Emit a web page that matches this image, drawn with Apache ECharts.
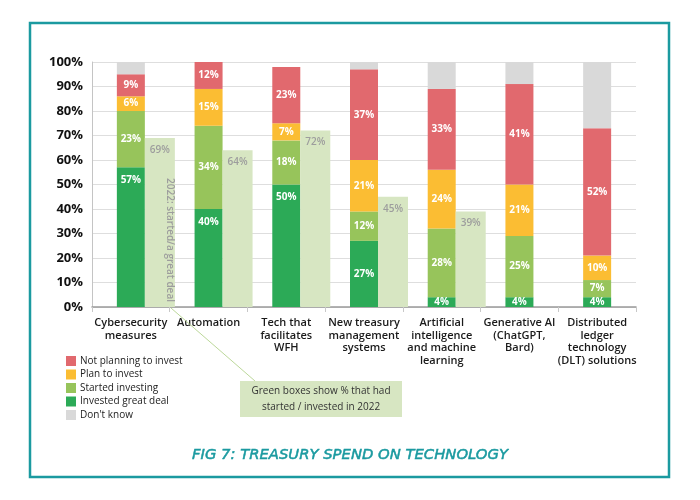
<!DOCTYPE html>
<html>
<head>
<meta charset="utf-8">
<script src="https://cdn.jsdelivr.net/npm/echarts@6/dist/echarts.min.js"></script>
<style>
  html, body { margin: 0; padding: 0; background: #ffffff; }
  #chart { width: 700px; height: 500px; }
</style>
</head>
<body>
<div id="chart"></div>
<script>
// ---- Data ----
const categories = [
  'Cybersecurity\nmeasures',
  'Automation',
  'Tech that\nfacilitates\nWFH',
  'New treasury\nmanagement\nsystems',
  'Artificial\nintelligence\nand machine\nlearning',
  'Generative AI\n(ChatGPT,\nBard)',
  'Distributed\nledger\ntechnology\n(DLT) solutions'
];
const investedGreatDeal = [57, 40, 50, 27, 4, 4, 4];
const startedInvesting  = [23, 34, 18, 12, 28, 25, 7];
const planToInvest      = [6, 15, 7, 21, 24, 21, 10];
const notPlanning       = [9, 12, 23, 37, 33, 41, 52];
const dontKnow          = [5, 0, 0, 3, 11, 9, 27];
const started2022       = [69, 64, 72, 45, 39, null, null];
const yTicks = [0, 10, 20, 30, 40, 50, 60, 70, 80, 90, 100];

// ---- Styles ----
const FONT = 'Open Sans';
const C = {
  red: '#e1696e', yellow: '#fbbd33', lightGreen: '#97c45b',
  darkGreen: '#2caa57', grey: '#d9d9d9', pale: '#d7e6c2', teal: '#1b9aa0'
};

const chart = echarts.init(document.getElementById('chart'), null, { renderer: 'canvas' });

function segLabel(extra) {
  return Object.assign({
    show: true, formatter: p => (p.value ? p.value + '%' : ''),
    color: '#ffffff', fontFamily: FONT, fontWeight: 'bold', fontSize: 10
  }, extra || {});
}
function stacked(name, values, color, labelOn, labelFn) {
  return {
    name: name, type: 'bar', stack: 'total', barWidth: 28,
    itemStyle: { color: color },
    label: labelOn ? segLabel() : { show: false },
    data: values.map((v, i) => labelFn ? { value: v, label: labelFn(v, i) } : v)
  };
}

const option = {
  animation: false,
  backgroundColor: '#ffffff',
  textStyle: { fontFamily: FONT },
  title: {
    text: 'FIG 7: TREASURY SPEND ON TECHNOLOGY',
    left: 'center', top: 443,
    textStyle: { fontFamily: 'DejaVu Sans', fontStyle: 'italic', fontWeight: 'normal', fontSize: 14.8,
      color: C.teal, textBorderColor: C.teal, textBorderWidth: 0.5 }
  },
  legend: {
    orient: 'vertical', left: 61, top: 351,
    itemWidth: 10, itemHeight: 10, itemGap: 3.5, icon: 'rect',
    textStyle: { fontFamily: FONT, fontSize: 10, color: '#222', padding: [0, 0, 0, -1] },
    data: ['Not planning to invest', 'Plan to invest', 'Started investing', 'Invested great deal', "Don't know"]
  },
  grid: { left: 92, right: 64, top: 62, bottom: 193, containLabel: false },
  xAxis: {
    type: 'category', data: categories,
    axisLine: { lineStyle: { color: '#9a9a9a', width: 1.5 } },
    axisTick: { show: true, length: 5, lineStyle: { color: '#c8c8c8' } },
    axisLabel: {
      interval: 0, margin: 10, fontFamily: FONT, fontWeight: 600, fontSize: 11,
      lineHeight: 12.5, color: '#1a1a1a', align: 'center'
    }
  },
  yAxis: {
    type: 'value', min: 0, max: 100, interval: 10,
    axisLine: { show: true, lineStyle: { color: '#c4c4c4' } },
    axisTick: { show: false },
    splitLine: { lineStyle: { color: '#dedede', width: 1 } },
    axisLabel: {
      formatter: v => (yTicks.indexOf(v) >= 0 ? v + '%' : ''),
      fontFamily: FONT, fontWeight: 'bold', fontSize: 13, color: '#111', margin: 9
    }
  },
  series: [
    { name: 'spacer', type: 'bar', barWidth: 30, barGap: '0%', silent: true,
      itemStyle: { color: 'transparent' }, data: categories.map(() => null) },
    stacked('Invested great deal', investedGreatDeal, C.darkGreen, true,
      v => v > 30 ? segLabel({ position: 'insideTop', distance: 8 }) : segLabel({ position: 'inside' })),
    stacked('Started investing', startedInvesting, C.lightGreen, true),
    stacked('Plan to invest', planToInvest, C.yellow, true),
    stacked('Not planning to invest', notPlanning, C.red, true),
    stacked("Don't know", dontKnow, C.grey, false),
    { name: '2022', type: 'bar', barWidth: 30, barGap: '0%',
      itemStyle: { color: C.pale },
      label: { show: true, position: 'insideTop', distance: 7, formatter: '{c}%',
        color: '#9d9d9d', fontFamily: FONT, fontWeight: 600, fontSize: 10 },
      data: started2022.map(v => (v == null ? '-' : v)) }
  ],
  graphic: [
    { type: 'rect', shape: { x: 30, y: 23, width: 639, height: 454 },
      style: { fill: 'none', stroke: C.teal, lineWidth: 2.5 }, z: 10 },
    { type: 'text', x: 169.5, y: 240, rotation: -Math.PI / 2, z: 10,
      style: { text: '2022: started/a great deal', align: 'center', verticalAlign: 'middle',
        fill: '#9d9d9d', font: '600 10px "Open Sans"' } },
    { type: 'line', shape: { x1: 171, y1: 308, x2: 255, y2: 381 },
      style: { stroke: '#bcd89a', lineWidth: 1 }, z: 10 },
    { type: 'rect', shape: { x: 240, y: 381, width: 162, height: 36 },
      style: { fill: '#d7e6c2' }, z: 10 },
    { type: 'text', x: 321, y: 399, z: 11,
      style: { text: 'Green boxes show % that had\nstarted / invested in 2022', align: 'center',
        verticalAlign: 'middle', fill: '#333', font: '10px "Open Sans"', lineHeight: 16 } }
  ]
};
chart.setOption(option);
</script>
</body>
</html>
